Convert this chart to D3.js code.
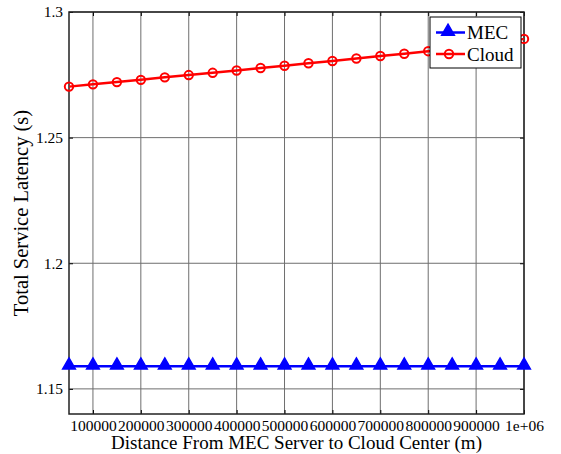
<!DOCTYPE html>
<html>
<head>
<meta charset="utf-8">
<script src="https://cdn.jsdelivr.net/npm/d3@7"></script>
<style>
  body { margin: 0; background: #fff; }
  svg text { font-family: "Liberation Serif", "Times New Roman", serif; fill: #000; }
</style>
</head>
<body>
<div id="chart"></div>
<script>
// distances (m)
const distances = [50000, 100000, 150000, 200000, 250000, 300000, 350000, 400000, 450000, 500000,
  550000, 600000, 650000, 700000, 750000, 800000, 850000, 900000, 950000, 1000000];
const mecLatency = [1.159, 1.159, 1.159, 1.159, 1.159, 1.159, 1.159, 1.159, 1.159, 1.159,
  1.159, 1.159, 1.159, 1.159, 1.159, 1.159, 1.159, 1.159, 1.159, 1.159];
const cloudLatency = [1.2703, 1.2712, 1.2721, 1.2730, 1.2740, 1.2749, 1.2758, 1.2767, 1.2777, 1.2786,
  1.2796, 1.2805, 1.2815, 1.2825, 1.2834, 1.2844, 1.2853, 1.2863, 1.2873, 1.2893];
const xTicks = [100000, 200000, 300000, 400000, 500000, 600000, 700000, 800000, 900000, 1000000];
const xTickLabels = ['100000', '200000', '300000', '400000', '500000', '600000', '700000', '800000', '900000', '1e+06'];
const yTicks = [1.15, 1.2, 1.25, 1.3];
const seriesNames = ['MEC', 'Cloud'];

const width = 561, height = 454;
const margin = {top: 12, right: 37, bottom: 40, left: 69};
const w = width - margin.left - margin.right;
const h = height - margin.top - margin.bottom;
const serif = '"Liberation Serif", "Times New Roman", serif';

const svg = d3.select('#chart').append('svg')
  .attr('width', width)
  .attr('height', height);

const main = svg.append('g')
  .attr('transform', `translate(${margin.left},${margin.top})`);

const x = d3.scaleLinear().domain([50000, 1000000]).range([0, w]);
const y = d3.scaleLinear().domain([1.14, 1.3]).range([h, 0]);

// grid
main.append('g').selectAll('line.vg')
  .data(xTicks)
  .enter().append('line')
  .attr('x1', d => x(d)).attr('x2', d => x(d))
  .attr('y1', 0).attr('y2', h)
  .attr('stroke', '#6e6e6e').attr('stroke-width', 1);
main.append('g').selectAll('line.hg')
  .data(yTicks)
  .enter().append('line')
  .attr('x1', 0).attr('x2', w)
  .attr('y1', d => y(d)).attr('y2', d => y(d))
  .attr('stroke', '#6e6e6e').attr('stroke-width', 1);

// axes (inward ticks on all sides)
const xAxis = d3.axisBottom(x).tickValues(xTicks).tickSize(-4).tickPadding(6)
  .tickFormat((d, i) => xTickLabels[i]);
const yAxis = d3.axisLeft(y).tickValues(yTicks).tickSize(-4).tickPadding(6)
  .tickFormat(d3.format('~g'));

const gx = main.append('g').attr('transform', `translate(0,${h})`).call(xAxis);
const gy = main.append('g').call(yAxis);
main.append('g').call(d3.axisTop(x).tickValues(xTicks).tickSize(-4).tickFormat(''));
main.append('g').attr('transform', `translate(${w},0)`)
  .call(d3.axisRight(y).tickValues(yTicks).tickSize(-4).tickFormat(''));

main.selectAll('.domain').remove();
main.selectAll('.tick line').attr('stroke', '#000');
gx.attr('font-family', serif);
gy.attr('font-family', serif);
gx.selectAll('text').style('font-family', serif).style('font-size', '15.5px');
gy.selectAll('text').style('font-family', serif).style('font-size', '15.5px');

main.append('rect')
  .attr('width', w).attr('height', h)
  .attr('fill', 'none').attr('stroke', '#222').attr('stroke-width', 1.5);

// series
const line = d3.line()
  .x((d, i) => x(distances[i]))
  .y(d => y(d));

main.append('path')
  .datum(mecLatency)
  .attr('fill', 'none').attr('stroke', '#0000ff').attr('stroke-width', 2.5)
  .attr('d', line);

main.append('path')
  .datum(cloudLatency)
  .attr('fill', 'none').attr('stroke', '#ff0000').attr('stroke-width', 2.5)
  .attr('d', line);

const tri = d3.symbol().type(d3.symbolTriangle).size(70);

main.selectAll('path.mec')
  .data(mecLatency)
  .enter().append('path')
  .attr('class', 'mec')
  .attr('transform', (d, i) => `translate(${x(distances[i])},${y(d) - 1})`)
  .attr('d', tri)
  .attr('fill', '#0000ff').attr('stroke', '#0000ff').attr('stroke-width', 1.5);

main.selectAll('circle.cloud')
  .data(cloudLatency)
  .enter().append('circle')
  .attr('class', 'cloud')
  .attr('cx', (d, i) => x(distances[i]))
  .attr('cy', d => y(d))
  .attr('r', 4.2)
  .attr('fill', 'none').attr('stroke', '#ff0000').attr('stroke-width', 2);

// legend
const legend = main.append('g')
  .attr('transform', `translate(${w - 94},${5})`);
legend.append('rect')
  .attr('width', 91).attr('height', 51)
  .attr('fill', '#fff').attr('stroke', '#000').attr('stroke-width', 1);

seriesNames.forEach((name, i) => {
  const ly = 15.5 + i * 21.5;
  const col = i === 0 ? '#0000ff' : '#ff0000';
  legend.append('line')
    .attr('x1', 6).attr('x2', 35).attr('y1', ly).attr('y2', ly)
    .attr('stroke', col).attr('stroke-width', 2.5);
  if (i === 0) {
    legend.append('path')
      .attr('transform', `translate(18,${ly - 1})`)
      .attr('d', tri)
      .attr('fill', col).attr('stroke', col).attr('stroke-width', 1.5);
  } else {
    legend.append('circle')
      .attr('cx', 19).attr('cy', ly).attr('r', 4.2)
      .attr('fill', 'none').attr('stroke', col).attr('stroke-width', 2);
  }
  legend.append('text')
    .attr('x', 37).attr('y', ly + 6.5)
    .style('font-size', '19px')
    .text(name);
});

// axis labels
svg.append('text')
  .attr('x', margin.left + w / 2)
  .attr('y', 449)
  .attr('text-anchor', 'middle')
  .style('font-size', '19px')
  .text('Distance From MEC Server to Cloud Center (m)');

svg.append('text')
  .attr('transform', `translate(28,${margin.top + h / 2}) rotate(-90)`)
  .attr('text-anchor', 'middle')
  .style('font-size', '20.5px')
  .text('Total Service Latency (s)');
</script>
</body>
</html>
